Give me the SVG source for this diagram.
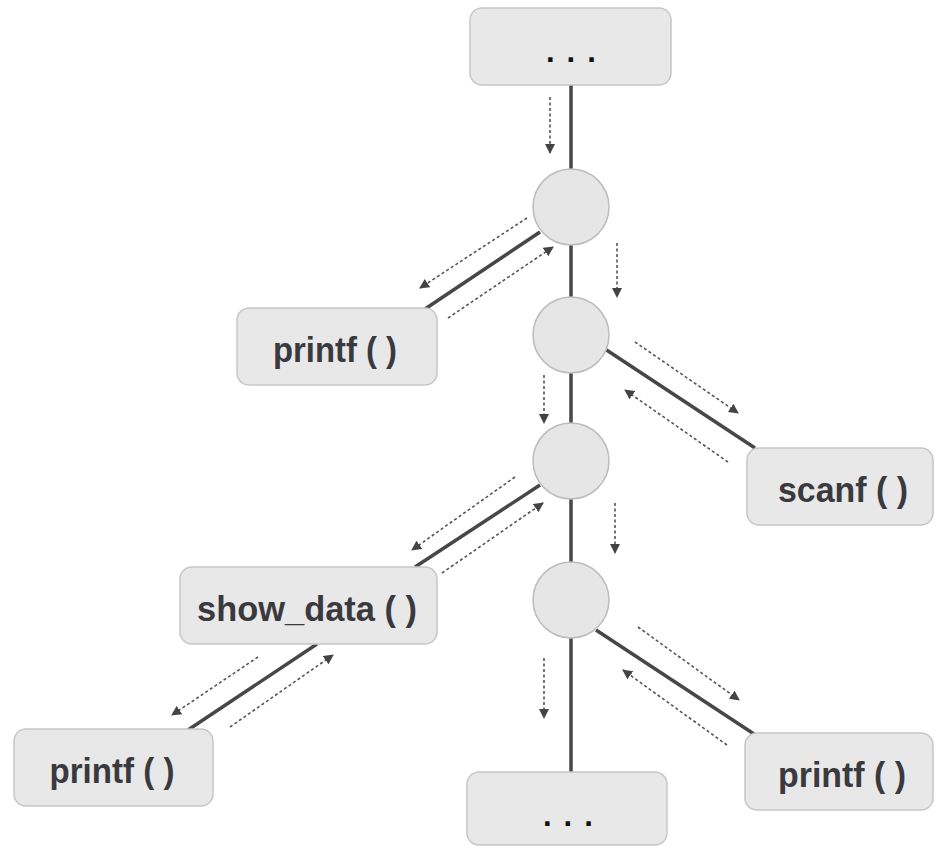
<svg xmlns="http://www.w3.org/2000/svg" width="935" height="846" viewBox="0 0 935 846">
<defs>
<style>
.box{fill:#e8e8e8;stroke:#c6c6c6;stroke-width:1.5}
.circ{fill:#e6e6e6;stroke:#bcbcbc;stroke-width:1.5}
.lbl{font-family:"Liberation Sans",Arial,Helvetica,sans-serif;font-weight:bold;font-size:35px;fill:#3a3a3e;text-anchor:middle}
.dots{font-family:"Liberation Sans",Arial,sans-serif;font-weight:bold;font-size:31px;fill:#111;letter-spacing:12px}
.solid{stroke:#474747;stroke-width:3.5;fill:none;stroke-linecap:butt}
.dash{stroke:#555;stroke-width:1.6;fill:none;stroke-dasharray:3 2.5}
</style>
<marker id="ah" viewBox="0 0 10 10" refX="9" refY="5" markerWidth="10" markerHeight="10" markerUnits="userSpaceOnUse" orient="auto">
<path d="M0,0 L10,5 L0,10 z" fill="#444"/>
</marker>
</defs>
<rect width="935" height="846" fill="#ffffff"/>
<g id="connectors">
<line class="solid" x1="571" y1="85" x2="571" y2="170"/>
<line class="solid" x1="571" y1="245" x2="571" y2="297"/>
<line class="solid" x1="571" y1="373" x2="571" y2="423"/>
<line class="solid" x1="571" y1="499" x2="571" y2="562"/>
<line class="solid" x1="571" y1="638" x2="571" y2="772"/>
<line class="solid" x1="540" y1="232" x2="425" y2="309"/>
<line class="solid" x1="605" y1="349" x2="755" y2="448"/>
<line class="solid" x1="540" y1="485" x2="415" y2="567"/>
<line class="solid" x1="317" y1="644" x2="188" y2="730"/>
<line class="solid" x1="596" y1="630" x2="754" y2="734"/>
<line class="dash" x1="550" y1="97" x2="550" y2="153" marker-end="url(#ah)"/>
<line class="dash" x1="617" y1="243" x2="617" y2="297" marker-end="url(#ah)"/>
<line class="dash" x1="544" y1="375" x2="544" y2="423" marker-end="url(#ah)"/>
<line class="dash" x1="615" y1="503" x2="615" y2="553" marker-end="url(#ah)"/>
<line class="dash" x1="544" y1="658" x2="544" y2="718" marker-end="url(#ah)"/>
<line class="dash" x1="527" y1="218" x2="420" y2="288" marker-end="url(#ah)"/>
<line class="dash" x1="448" y1="318" x2="553" y2="247" marker-end="url(#ah)"/>
<line class="dash" x1="635" y1="342" x2="738" y2="413" marker-end="url(#ah)"/>
<line class="dash" x1="728" y1="462" x2="625" y2="390" marker-end="url(#ah)"/>
<line class="dash" x1="515" y1="477" x2="412" y2="550" marker-end="url(#ah)"/>
<line class="dash" x1="442" y1="573" x2="543" y2="503" marker-end="url(#ah)"/>
<line class="dash" x1="258" y1="657" x2="172" y2="715" marker-end="url(#ah)"/>
<line class="dash" x1="230" y1="727" x2="333" y2="655" marker-end="url(#ah)"/>
<line class="dash" x1="638" y1="627" x2="739" y2="700" marker-end="url(#ah)"/>
<line class="dash" x1="727" y1="745" x2="623" y2="670" marker-end="url(#ah)"/>
</g>
<g id="top">
<rect class="box" x="470" y="8" width="201" height="77" rx="12"/>
<text class="dots" x="546" y="62">...</text>
</g>
<g id="c1"><circle class="circ" cx="571" cy="207" r="38"/></g>
<g id="c2"><circle class="circ" cx="571" cy="335" r="38"/></g>
<g id="c3"><circle class="circ" cx="571" cy="461" r="38"/></g>
<g id="c4"><circle class="circ" cx="571" cy="600" r="38"/></g>
<g id="printf1">
<rect class="box" x="237" y="308" width="200" height="77" rx="12"/>
<text class="lbl" x="335" y="362" textLength="124" lengthAdjust="spacingAndGlyphs">printf ( )</text>
</g>
<g id="scanf">
<rect class="box" x="747" y="448" width="186" height="77" rx="12"/>
<text class="lbl" x="843" y="502" textLength="130" lengthAdjust="spacingAndGlyphs">scanf ( )</text>
</g>
<g id="show_data">
<rect class="box" x="180" y="567" width="257" height="77" rx="12"/>
<text class="lbl" x="307" y="621" textLength="220" lengthAdjust="spacingAndGlyphs">show_data ( )</text>
</g>
<g id="printf2">
<rect class="box" x="14" y="729" width="199" height="77" rx="12"/>
<text class="lbl" x="112" y="783" textLength="125" lengthAdjust="spacingAndGlyphs">printf ( )</text>
</g>
<g id="printf3">
<rect class="box" x="745" y="733" width="188" height="77" rx="12"/>
<text class="lbl" x="842" y="787" textLength="128" lengthAdjust="spacingAndGlyphs">printf ( )</text>
</g>
<g id="bottom">
<rect class="box" x="467" y="772" width="200" height="73" rx="12"/>
<text class="dots" x="543" y="826">...</text>
</g>
</svg>
